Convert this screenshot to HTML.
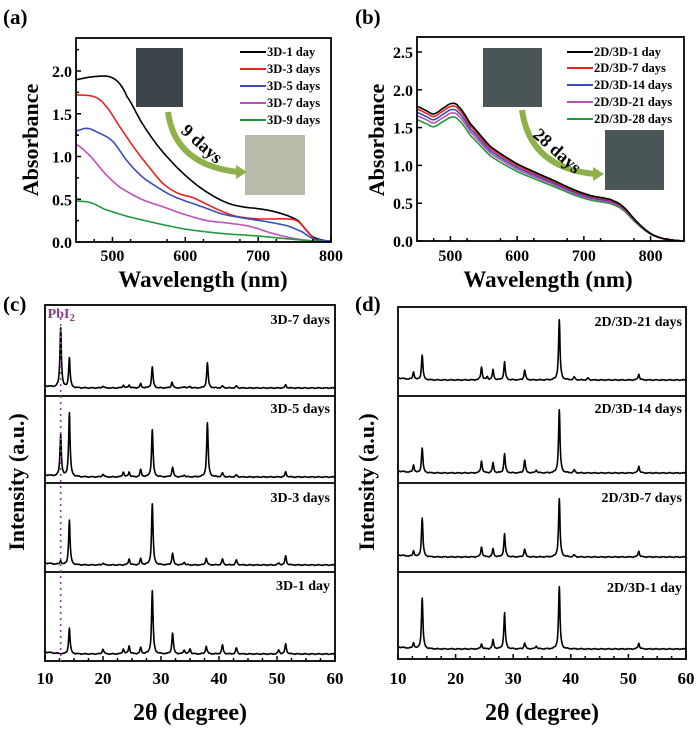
<!DOCTYPE html>
<html><head><meta charset="utf-8"><style>
html,body{margin:0;padding:0;background:#fff;}
svg{display:block;font-family:"Liberation Serif",serif;font-weight:bold;}
</style></head><body>
<svg id="s" width="700" height="730" viewBox="0 0 700 730" xmlns="http://www.w3.org/2000/svg">
<text x="3" y="24" font-size="21">(a)</text>
<text x="355" y="24" font-size="21">(b)</text>
<text x="3" y="311" font-size="21">(c)</text>
<text x="355" y="311" font-size="21">(d)</text>
<text transform="translate(38,140) rotate(-90)" font-size="22" text-anchor="middle">Absorbance</text>
<text transform="translate(384,140) rotate(-90)" font-size="22" text-anchor="middle">Absorbance</text>
<text x="203" y="287" font-size="23" text-anchor="middle">Wavelength (nm)</text>
<text x="548" y="287" font-size="23" text-anchor="middle">Wavelength (nm)</text>
<text transform="translate(24,482) rotate(-90)" font-size="22" text-anchor="middle">Intensity (a.u.)</text>
<text transform="translate(374,482) rotate(-90)" font-size="22" text-anchor="middle">Intensity (a.u.)</text>
<text x="190" y="720" font-size="24" text-anchor="middle">2θ (degree)</text>
<text x="542" y="720" font-size="24" text-anchor="middle">2θ (degree)</text>
<rect x="136" y="48" width="47" height="59" fill="#3d444a"/>
<rect x="245" y="135" width="60" height="60" fill="#b9bcaa"/>
<rect x="483" y="48" width="59" height="59" fill="#4a5558"/>
<rect x="605" y="130" width="59" height="60" fill="#4a5558"/>
<path d="M168,112 Q175,165 238,172" fill="none" stroke="#8fb04a" stroke-width="6"/>
<polygon points="236,165 247,172 236,179" fill="#8fb04a"/>
<path d="M522,110 Q530,168 595,174" fill="none" stroke="#8fb04a" stroke-width="6"/>
<polygon points="593,167 604,174 593,181" fill="#8fb04a"/>
<text transform="translate(180,132) rotate(42)" font-size="18">9 days</text>
<text transform="translate(532,136) rotate(42)" font-size="18">28 days</text>
<g id="g"></g>
</svg>
<script>
var g=document.getElementById('g'),h='';
function L(x1,y1,x2,y2,c,w,d){h+='<line x1="'+x1+'" y1="'+y1+'" x2="'+x2+'" y2="'+y2+'" stroke="'+(c||'#000')+'" stroke-width="'+(w||1.5)+'"'+(d?' stroke-dasharray="'+d+'"':'')+'/>';}
function T(x,y,t,s,a,c){h+='<text x="'+x+'" y="'+y+'" font-size="'+s+'" text-anchor="'+(a||'start')+'" fill="'+(c||'#000')+'">'+t+'</text>';}
function P(pts,c,w){h+='<polyline fill="none" stroke="'+c+'" stroke-width="'+(w||1.6)+'" stroke-linejoin="round" points="'+pts.map(p=>p[0].toFixed(1)+','+p[1].toFixed(1)).join(' ')+'"/>';}
function interp(d,x){for(var i=0;i<d.length-1;i++){if(x<=d[i+1][0]){var t=(x-d[i][0])/(d[i+1][0]-d[i][0]);
 var p0=d[Math.max(i-1,0)][1],p1=d[i][1],p2=d[i+1][1],p3=d[Math.min(i+2,d.length-1)][1];
 var m1=(p2-p0)/2,m2=(p3-p1)/2,t2=t*t,t3=t2*t;
 return (2*t3-3*t2+1)*p1+(t3-2*t2+t)*m1+(-2*t3+3*t2)*p2+(t3-t2)*m2;}}return d[d.length-1][1];}
var ax0=76,ax1=331,ay0=242,ay1=38,X=n=>ax0+(n-450)*(ax1-ax0)/350,Y=a=>ay0-a*85.5;
var A=[
['#000',[[450,1.9],[470,1.93],[490,1.94],[500,1.92],[510,1.85],[520,1.7],[540,1.4],[560,1.15],[580,.95],[600,.78],[620,.64],[640,.53],[660,.45],[680,.41],[700,.39],[720,.36],[740,.31],[755,.25],[765,.15],[775,.06],[790,.02],[800,.01]]],
['#e8221c',[[450,1.72],[475,1.7],[490,1.6],[510,1.35],[530,1.1],[550,.88],[570,.68],[590,.57],[610,.52],[630,.44],[650,.36],[670,.3],[700,.27],[740,.27],[755,.24],[770,.1],[780,.02],[800,.01]]],
['#3a4dbb',[[450,1.3],[465,1.33],[480,1.28],[500,1.18],[520,.95],[540,.77],[560,.65],[580,.55],[600,.48],[620,.42],[650,.33],[680,.28],[710,.24],[740,.19],[760,.12],[775,.04],[800,.01]]],
['#c050b8',[[450,1.14],[470,1.0],[490,.8],[510,.64],[540,.5],[570,.41],[600,.32],[630,.25],[660,.22],[690,.18],[720,.1],[750,.04],[780,.01],[800,0]]],
['#1f9a3a',[[450,.48],[470,.46],[490,.38],[520,.3],[560,.22],[600,.15],[650,.1],[700,.07],[750,.03],[800,0]]]];
A.forEach(s=>{var p=[];for(var n=450;n<=800;n+=2)p.push([X(n),Y(Math.max(0,interp(s[1],n)))]);P(p,s[0]);});
h+='<rect x="'+ax0+'" y="'+ay1+'" width="'+(ax1-ax0)+'" height="'+(ay0-ay1)+'" fill="none" stroke="#000" stroke-width="1.8"/>';
for(var n=500;n<=800;n+=100){L(X(n),ay0,X(n),ay0-5);T(X(n),261,n,16,'middle');}
for(var n=475;n<800;n+=50)L(X(n),ay0,X(n),ay0-3);
for(var a=0;a<=2;a+=.5){L(ax0,Y(a),ax0+5,Y(a));T(ax0-4,Y(a)+6,a.toFixed(1),16,'end');}
for(var a=.25;a<2.3;a+=.5)L(ax0,Y(a),ax0+3,Y(a));
var la=['3D-1 day','3D-3 days','3D-5 days','3D-7 days','3D-9 days'],ly=[52,69,86,103,120];
la.forEach((t,i)=>{L(240,ly[i],266,ly[i],A[i][0],2);T(267,ly[i]+4,t,12.5);});
var bx0=417,bx1=684,by0=241,by1=37,BX=n=>bx0+(n-450)*(bx1-bx0)/400,BY=a=>by0-a*75.6;
var bd=[[450,1.78],[465,1.72],[475,1.68],[490,1.76],[502,1.82],[512,1.78],[530,1.55],[560,1.25],[600,1.02],[650,.82],[700,.63],[740,.55],[758,.46],[780,.25],[800,.1],[820,.03],[850,0]];
var bc=['#1f9a3a','#c050b8','#3a4dbb','#e8221c','#000'],bs=[.9,.93,.955,.98,1];
bc.forEach((c,i)=>{var p=[];for(var n=450;n<=850;n+=2)p.push([BX(n),BY(Math.max(0,interp(bd,n)*bs[i]))]);P(p,c);});
h+='<rect x="'+bx0+'" y="'+by1+'" width="'+(bx1-bx0)+'" height="'+(by0-by1)+'" fill="none" stroke="#000" stroke-width="1.8"/>';
for(var n=500;n<=800;n+=100){L(BX(n),by0,BX(n),by0-5);T(BX(n),261,n,16,'middle');}
for(var n=475;n<850;n+=50)L(BX(n),by0,BX(n),by0-3);
for(var a=0;a<=2.5;a+=.5){L(bx0,BY(a),bx0+5,BY(a));T(bx0-4,BY(a)+6,a.toFixed(1),16,'end');}
var lb=['2D/3D-1 day','2D/3D-7 days','2D/3D-14 days','2D/3D-21 days','2D/3D-28 days'],lc=['#000','#e8221c','#3a4dbb','#c050b8','#1f9a3a'],lby=[52,68,85,102,119];
lb.forEach((t,i)=>{L(567,lby[i],593,lby[i],lc[i],2);T(594,lby[i]+4,t,12.5);});
function xrd(x0,x1,subs,labels,lx){
 var Xd=t=>x0+(t-10)*(x1-x0)/50;
 subs.forEach((s,k)=>{var base=s[0],pk=s[1],p=[];
  for(var t=10;t<=60;t+=0.05){var y=0.3*Math.sin(t*5.3)+0.2*Math.sin(t*13.1)+(t<13?2*(13-t)/3:0);
   pk.forEach(q=>{var w=0.15;y+=q[1]/(1+((t-q[0])/w)*((t-q[0])/w));});
   p.push([Xd(t),base-y]);}
  P(p,'#000',1.6);T(lx,s[2],labels[k],14,'end');});
 return Xd;}
var Xc=xrd(45,335,[
 [388,[[12.7,60],[14.2,30],[28.5,21],[38,25],[20,2],[23.5,3],[24.5,3],[26.5,4],[31.9,6],[34,1.5],[35,1.5],[40.6,2],[43,2],[51.5,3]],324],
 [477,[[12.7,42],[14.2,64],[28.5,47],[38,54],[32,10],[26.5,7],[23.5,5],[24.5,5],[20,3],[40.6,4],[43,2],[51.5,5],[34,2]],413],
 [565,[[12.7,4],[14.2,45],[28.5,61],[32,12],[24.5,6],[26.5,6],[37.8,7],[40.6,6],[43,5],[51.5,9],[34,3],[20,2],[50.3,2]],502],
 [654,[[14.2,26],[28.5,63],[32,21],[23.5,5],[24.5,8],[26.5,6],[20,5],[34,4],[35,5],[37.8,8],[40.6,9],[43,6],[50.3,4],[51.5,10]],590]],
 ['3D-7 days','3D-5 days','3D-3 days','3D-1 day'],330);
var Xdd=xrd(398,686,[
 [380,[[38,60],[14.2,25],[12.7,8],[24.5,13],[26.5,10],[28.5,18],[32,10],[40.6,3],[51.8,6],[25.5,3],[43,2]],326],
 [473,[[38,63],[14.2,25],[12.7,8],[24.5,12],[26.5,10],[28.5,19],[32,13],[51.8,7],[40.6,3],[34,3]],413],
 [557,[[38,58],[14.2,39],[28.5,23],[24.5,10],[26.5,8],[12.7,6],[32,8],[51.8,6],[40.6,2]],502],
 [649,[[38,62],[14.2,51],[28.5,36],[26.5,9],[12.7,6],[24.5,5],[32,6],[51.8,6],[34,3]],592]],
 ['2D/3D-21 days','2D/3D-14 days','2D/3D-7 days','2D/3D-1 day'],682);
[[45,335,305,661,[396,483,572],Xc],[398,686,307,659,[396,483,572],Xdd]].forEach(f=>{
 h+='<rect x="'+f[0]+'" y="'+f[2]+'" width="'+(f[1]-f[0])+'" height="'+(f[3]-f[2])+'" fill="none" stroke="#000" stroke-width="1.8"/>';
 f[4].forEach(y=>L(f[0],y,f[1],y,'#000',1.8));
 for(var t=10;t<=60;t+=2.5){var big=t%10==0;L(f[5](t),f[3],f[5](t),f[3]-(big?5:3));}
 for(var t=10;t<=60;t+=10)T(f[5](t),684,t,17,'middle');});
L(Xc(12.7),318,Xc(12.7),661,'#9b3d9b',1.6,'2,4');
h+='<text x="'+(Xc(12.7)-13)+'" y="318" font-size="14" fill="#8a3a8a">PbI<tspan font-size="11" dy="3">2</tspan></text>';
g.innerHTML=h;
</script>
</body></html>
